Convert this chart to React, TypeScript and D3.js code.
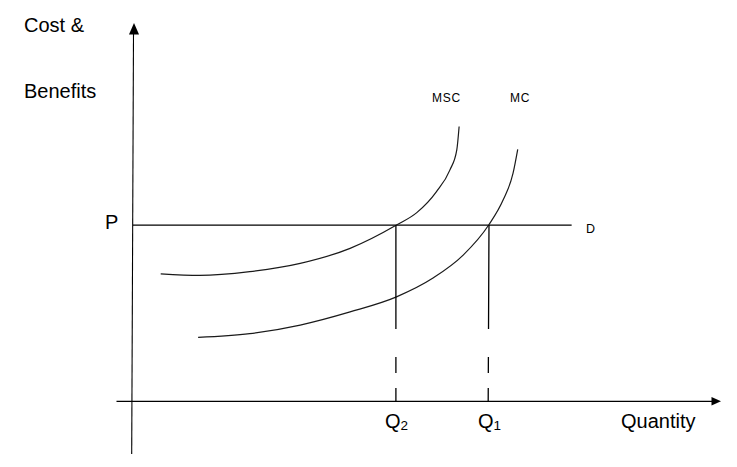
import React from "react";
import * as d3 from "d3";

const W = 737;
const H = 467;

// Data (abstract units: quantity 0..100, cost/benefit 0..100)
const mscQ = [4.95, 11.7, 20.3, 29.0, 37.6, 45.6, 49.1, 52.5, 54.8, 56.0, 56.4];
const mscV = [33.8, 33.4, 34.4, 36.6, 40.6, 46.8, 50.1, 55.7, 61.4, 66.8, 73.0];
const mcQ = [11.4, 20.3, 29.0, 37.6, 45.6, 51.9, 57.1, 61.5, 64.0, 65.7, 66.5];
const mcV = [16.9, 17.9, 20.2, 23.7, 27.7, 32.7, 38.8, 46.8, 53.5, 60.6, 66.9];
const priceP = 46.8;
const demandEnd = 75.8;
const qLabels = ["Q", "Q"];
const qSubs = ["2", "1"];
const qValues = [45.5, 61.55];
const curveLabels = ["MSC", "MC", "D"];

const x = d3.scaleLinear().domain([0, 100]).range([132, 712]);
const y = d3.scaleLinear().domain([0, 100]).range([401, 25]);

const line = d3
  .line<[number, number]>()
  .x((d) => x(d[0]))
  .y((d) => y(d[1]))
  .curve(d3.curveMonotoneX);

const font = "'Liberation Sans', Arial, sans-serif";

export default function App() {
  const msc = mscQ.map((q, i) => [q, mscV[i]] as [number, number]);
  const mc = mcQ.map((q, i) => [q, mcV[i]] as [number, number]);
  const x0 = x(0);
  const y0 = y(0);
  return (
    <svg
      width={W}
      height={H}
      style={{ position: "absolute", left: 0, top: 0, background: "#fff" }}
      fontFamily={font}
    >
      <rect width={W} height={H} fill="#fff" />
      {/* Y axis */}
      <line x1={x0 + 1.5} y1={33} x2={x0 - 0.3} y2={454} stroke="#000" strokeWidth={1.1} />
      <path d={`M${x0 + 2},23 L${x0 + 7},34.5 L${x0 - 3},34.5 Z`} fill="#000" />
      {/* X axis */}
      <line x1={116.5} y1={y0 + 0.3} x2={712} y2={y0 + 0.3} stroke="#000" strokeWidth={1.3} />
      <path d={`M721,${y0 + 0.3} L711.5,${y0 - 3.9} L711.5,${y0 + 4.5} Z`} fill="#000" />

      {/* Demand line */}
      <line x1={x0 + 1} y1={y(priceP)} x2={x(demandEnd)} y2={y(priceP)} stroke="#000" strokeWidth={1.3} />

      {/* Curves */}
      <path d={line(msc) || ""} fill="none" stroke="#1a1a1a" strokeWidth={1.2} />
      <path d={line(mc) || ""} fill="none" stroke="#1a1a1a" strokeWidth={1.2} />

      {/* Dashed quantity lines */}
      {qValues.map((q, i) => (
        <line
          key={i}
          x1={x(q)}
          y1={y(priceP)}
          x2={x(q) - (i === 1 ? 0.8 : 0)}
          y2={y0}
          stroke="#000"
          strokeWidth={1.3}
          strokeDasharray="104 28 16 15 20"
        />
      ))}

      {/* Texts */}
      <text x={24} y={32} fontSize={20} fill="#000">Cost &amp;</text>
      <text x={24} y={98} fontSize={20} fill="#000">Benefits</text>
      <text x={105} y={229} fontSize={20} fill="#000">P</text>
      <text x={621} y={428} fontSize={20} fill="#000">Quantity</text>
      {qValues.map((q, i) => (
        <text key={i} x={x(q) - 11} y={428} fontSize={20} fill="#000">
          {qLabels[i]}
          <tspan fontSize={13.5} dy={2}>{qSubs[i]}</tspan>
        </text>
      ))}
      <text x={432} y={102} fontSize={12} letterSpacing={0.8} fill="#000">{curveLabels[0]}</text>
      <text x={510} y={102} fontSize={12} letterSpacing={0.8} fill="#000">{curveLabels[1]}</text>
      <text x={586} y={232.5} fontSize={12.5} fill="#000">{curveLabels[2]}</text>
    </svg>
  );
}
